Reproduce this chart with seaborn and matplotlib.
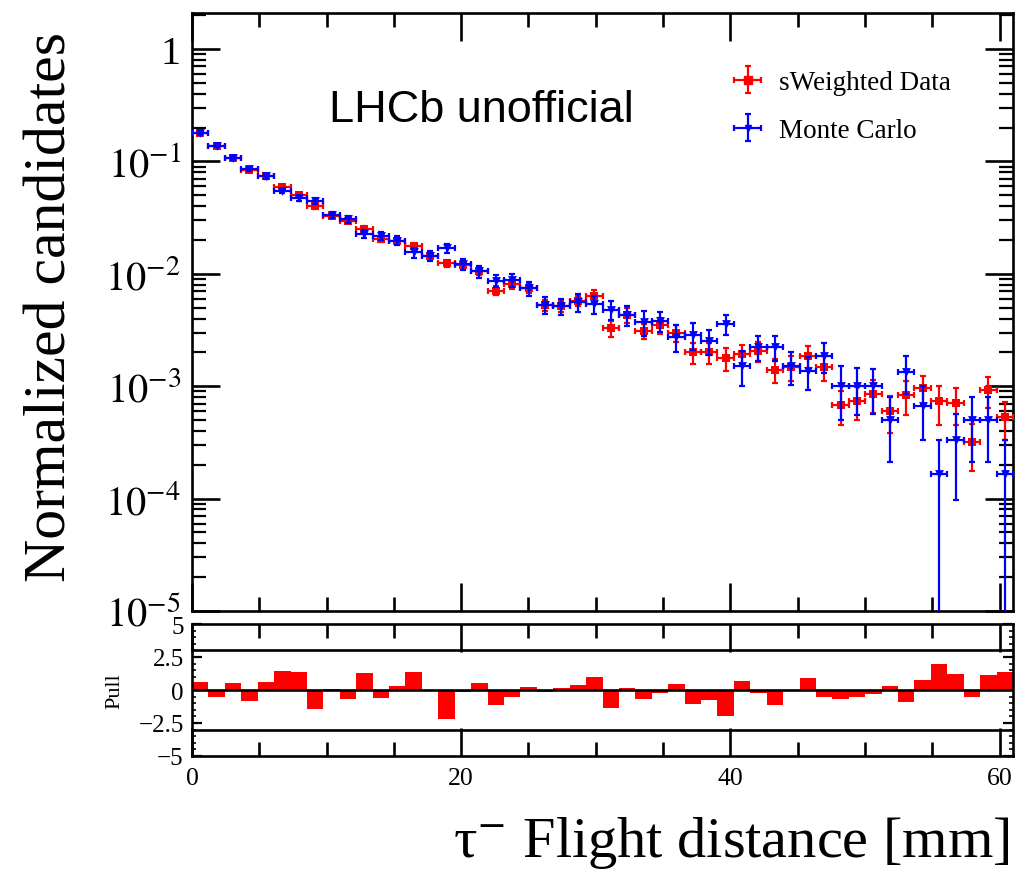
import numpy as np
import pandas as pd
import seaborn as sns
import matplotlib
matplotlib.use("Agg")
import matplotlib.pyplot as plt
from matplotlib.ticker import FixedLocator, MultipleLocator, LogLocator, FuncFormatter, NullFormatter
from matplotlib.legend_handler import HandlerTuple
from matplotlib.lines import Line2D

# ---- binning ----
n_bins = 50
x_min, x_max = 0.0, 61.0

# ---- normalised yields per bin ----
data_vals = [0.178, 0.137, 0.107, 0.0838, 0.0737,
             0.0588, 0.0502, 0.0398, 0.0329, 0.0297,
             0.0250, 0.0204, 0.0197, 0.0178, 0.0145,
             0.01247, 0.0120, 0.0105, 0.00708, 0.00811,
             0.00742, 0.00527, 0.00513, 0.00576, 0.00638,
             0.00327, 0.0043, 0.00308, 0.00350, 0.00297,
             0.00200, 0.00200, 0.00178, 0.00194, 0.00207,
             0.00140, 0.00148, 0.00187, 0.00149, 0.00068,
             0.000743, 0.000853, 0.000605, 0.000835, 0.000957,
             0.000734, 0.00071, 0.000321, 0.000925, 0.000528]

mc_vals = [0.178, 0.138, 0.107, 0.0855, 0.0737,
           0.0549, 0.0469, 0.0447, 0.0334, 0.0307,
           0.0226, 0.0218, 0.0197, 0.0155, 0.0145,
           0.01686, 0.0121, 0.0105, 0.0087, 0.00881,
           0.00742, 0.00527, 0.00513, 0.00557, 0.00539,
           0.0048, 0.0043, 0.0037, 0.00383, 0.00275,
           0.00287, 0.00254, 0.00357, 0.00152, 0.00222,
           0.00222, 0.00152, 0.00137, 0.00187, 0.0010,
           0.0010, 0.0010, 0.000504, 0.00135, 0.00067,
           0.000166, 0.000332, 0.000504, 0.000504, 0.000166]

# relative statistical uncertainties
data_rel_err = [0.02, 0.025, 0.03, 0.03, 0.035,
                0.04, 0.04, 0.045, 0.05, 0.05,
                0.055, 0.06, 0.06, 0.065, 0.07,
                0.07, 0.075, 0.08, 0.09, 0.09,
                0.09, 0.11, 0.11, 0.11, 0.12,
                0.16, 0.15, 0.15, 0.16, 0.17,
                0.22, 0.22, 0.23, 0.21, 0.20,
                0.24, 0.25, 0.22, 0.25, 0.34,
                0.33, 0.32, 0.36, 0.33, 0.28,
                0.38, 0.37, 0.45, 0.31, 0.37]

mc_rel_err = [0.03, 0.035, 0.04, 0.045, 0.05,
              0.055, 0.06, 0.06, 0.07, 0.07,
              0.08, 0.08, 0.09, 0.10, 0.10,
              0.10, 0.11, 0.12, 0.13, 0.13,
              0.14, 0.17, 0.17, 0.18, 0.18,
              0.19, 0.20, 0.25, 0.20, 0.27,
              0.27, 0.25, 0.20, 0.34, 0.25,
              0.25, 0.33, 0.33, 0.30, 0.50,
              0.45, 0.43, 0.58, 0.37, 0.50,
              0.999, 0.71, 0.58, 0.58, 0.999]

# pull per bin: (data - MC) / sigma
pull_vals = [0.58, -0.56, 0.50, -0.80, 0.58,
             1.46, 1.39, -1.44, 0.10, -0.68,
             1.31, -0.63, 0.33, 1.39, -0.02,
             -2.20, -0.18, 0.53, -1.10, -0.50,
             0.25, -0.18, 0.18, 0.38, 0.96,
             -1.39, 0.18, -0.66, -0.25, 0.45,
             -1.06, -0.73, -2.00, 0.70, -0.20,
             -1.10, 0.02, 0.93, -0.56, -0.68,
             -0.53, -0.30, 0.33, -0.93, 0.73,
             2.00, 1.19, -0.53, 1.16, 1.39]

legend_labels = ["sWeighted Data", "Monte Carlo"]

edges = np.linspace(x_min, x_max, n_bins + 1)
centers = 0.5 * (edges[:-1] + edges[1:])
half_w = 0.5 * (edges[1] - edges[0])

df = pd.DataFrame({
    "x": centers,
    "data": data_vals, "mc": mc_vals,
    "data_err": np.array(data_vals) * np.array(data_rel_err),
    "mc_err": np.array(mc_vals) * np.array(mc_rel_err),
    "pull": pull_vals,
})

sns.set_theme(style="ticks")
plt.rcParams["font.family"] = ["Liberation Serif", "DejaVu Serif"]
plt.rcParams["mathtext.fontset"] = "stix"
plt.rcParams["axes.linewidth"] = 1.9
for key in ("text.color", "axes.labelcolor", "xtick.color", "ytick.color",
            "axes.edgecolor"):
    plt.rcParams[key] = "black"

W, H = 1021, 870
fig = plt.figure(figsize=(W / 100, H / 100), dpi=100)
ax = fig.add_axes([192 / W, 1 - 612 / H, 821 / W, 598 / H])
axp = fig.add_axes([192 / W, 1 - 757 / H, 821 / W, 132 / H], sharex=ax)

red, blue = "#ff0000", "#0000ff"

# ---- main panel ----
eb_kw = dict(fmt="none", elinewidth=1.6, capsize=2.2, capthick=1.6)
cont_d = ax.errorbar(df["x"], df["data"], xerr=half_w, yerr=df["data_err"],
                     ecolor=red, zorder=3, **eb_kw)
sns.scatterplot(data=df, x="x", y="data", ax=ax, marker="s", s=40, color=red,
                edgecolor=red, linewidth=0, zorder=4, legend=False)
cont_m = ax.errorbar(df["x"], df["mc"], xerr=half_w, yerr=df["mc_err"],
                     ecolor=blue, zorder=5, **eb_kw)
sns.scatterplot(data=df, x="x", y="mc", ax=ax, marker="v", s=40, color=blue,
                edgecolor=blue, linewidth=0, zorder=6, legend=False)

ax.set_yscale("log")
ax.set_ylim(1e-5, 2.09)
ax.set_xlim(x_min, x_max)
ax.yaxis.set_major_locator(LogLocator(base=10, numticks=10))
ax.yaxis.set_minor_locator(LogLocator(base=10, subs=np.arange(2, 10), numticks=100))
ax.yaxis.set_major_formatter(FuncFormatter(
    lambda v, p: "1" if abs(np.log10(v)) < 1e-9 else r"$10^{%d}$" % round(np.log10(v))))
ax.yaxis.set_minor_formatter(NullFormatter())
ax.tick_params(axis="y", which="major", labelsize=29, length=20, width=1.9,
               direction="in", left=True, right=True, pad=8)
ax.tick_params(axis="y", which="minor", length=10, width=1.6,
               direction="in", left=True, right=True)
ax.tick_params(axis="x", which="both", direction="in", top=True, bottom=True,
               labelbottom=False, width=1.9)
ax.tick_params(axis="x", which="major", length=20)
ax.tick_params(axis="x", which="minor", length=10)
ax.xaxis.set_major_locator(MultipleLocator(20))
ax.xaxis.set_minor_locator(MultipleLocator(5))
ax.set_xlabel("")
ax.set_ylabel("Normalized candidates", fontsize=43)
ax.yaxis.set_label_coords(-0.138, 0.51)

ax.text(481 / W, 1 - 111 / H, "LHCb unofficial", transform=fig.transFigure,
        ha="center", va="center", fontsize=32.5, family="Liberation Sans")

h_d = (cont_d, Line2D([], [], marker="s", color=red, ls="none", markersize=6))
h_m = (cont_m, Line2D([], [], marker="v", color=blue, ls="none", markersize=5))
ax.legend([h_d, h_m], legend_labels, handler_map={tuple: HandlerTuple(ndivide=1)},
          loc="upper left", bbox_to_anchor=(726 / W, 1 - 71 / H),
          bbox_transform=fig.transFigure, frameon=False, fontsize=19.5,
          handlelength=1.6, handletextpad=0.35, labelspacing=0.85,
          borderpad=0, borderaxespad=0)

# ---- pull panel ----
sns.histplot(data=df, x="x", weights="pull", bins=n_bins, binrange=(x_min, x_max),
             stat="count", element="bars", color=red, alpha=1.0, linewidth=0,
             ax=axp, zorder=2)
for yline in (-3, 0, 3):
    axp.axhline(yline, color="black", lw=1.9, zorder=3)
axp.set_ylim(-5, 5)
axp.set_xlim(x_min, x_max)
axp.yaxis.set_major_locator(FixedLocator([-5, -2.5, 0, 2.5, 5]))
axp.yaxis.set_major_formatter(FuncFormatter(
    lambda v, p: ("%g" % v).replace("-", "\u2212")))
axp.yaxis.set_minor_locator(MultipleLocator(0.5))
axp.tick_params(axis="y", which="major", labelsize=18, length=7, width=1.6,
                direction="in", left=True, right=True, pad=6)
axp.tick_params(axis="y", which="minor", length=3, width=1.2,
                direction="in", left=True, right=True)
axp.tick_params(axis="x", which="both", direction="in", top=True, bottom=True,
                labelsize=18.5, width=1.9, pad=8)
axp.tick_params(axis="x", which="major", length=20)
axp.tick_params(axis="x", which="minor", length=10)
axp.set_ylabel("Pull", fontsize=16)
axp.yaxis.set_label_coords(-0.082, 0.5)
axp.set_xlabel("\u03c4$^{-}$ Flight distance [mm]", fontsize=42, ha="right", va="center")
axp.xaxis.set_label_coords(0.996, -0.65)

for a in (ax, axp):
    for s in a.spines.values():
        s.set_linewidth(1.9)
        s.set_color("black")

fig.savefig("out.png", dpi=100)
